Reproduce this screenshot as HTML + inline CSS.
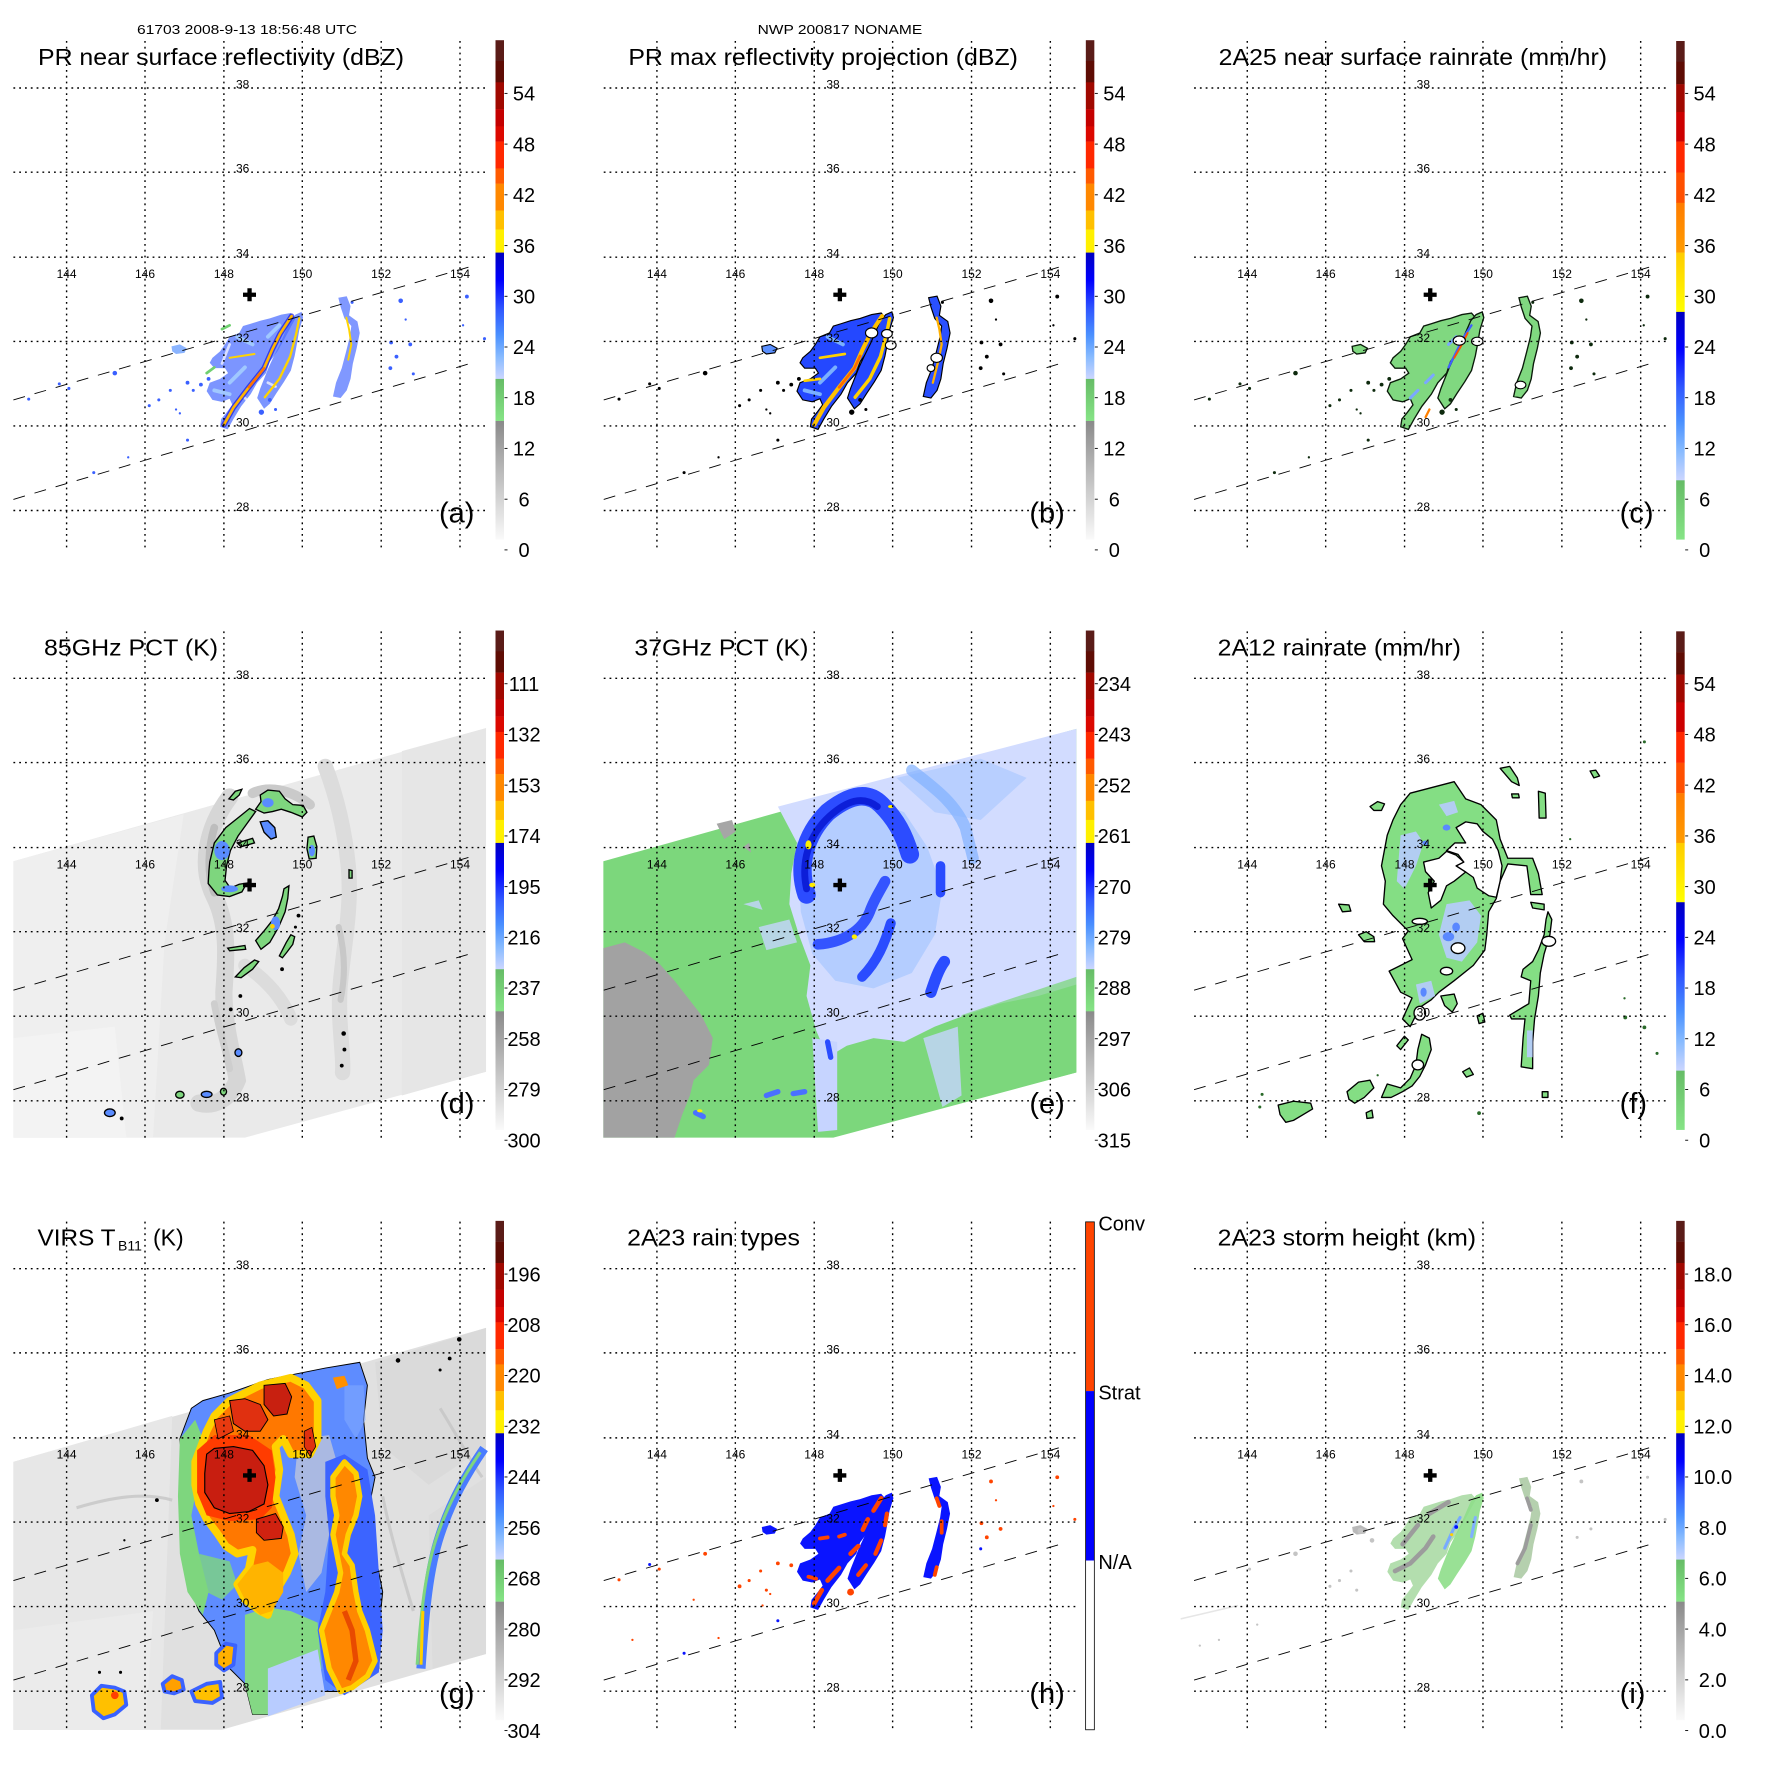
<!DOCTYPE html>
<html><head><meta charset="utf-8"><style>
html,body{margin:0;padding:0;background:#fff}
svg{display:block}
text{font-family:"Liberation Sans",Arial,Helvetica,sans-serif;fill:#000}
</style></head><body>
<svg xmlns="http://www.w3.org/2000/svg" xmlns:xlink="http://www.w3.org/1999/xlink" width="1771" height="1771" viewBox="0 0 1771 1771">
<defs>
<linearGradient id="gBlue" x1="0" y1="0" x2="0" y2="1"><stop offset="0" stop-color="#0000c0"/><stop offset="0.22" stop-color="#0000ff"/><stop offset="0.45" stop-color="#3058ff"/><stop offset="0.65" stop-color="#4a90ff"/><stop offset="0.82" stop-color="#86baff"/><stop offset="1" stop-color="#ccd6ff"/></linearGradient>
<linearGradient id="gGreen" x1="0" y1="0" x2="0" y2="1"><stop offset="0" stop-color="#66bc66"/><stop offset="1" stop-color="#86e486"/></linearGradient>
<linearGradient id="gGray" x1="0" y1="0" x2="0" y2="1"><stop offset="0" stop-color="#8a8a8a"/><stop offset="1" stop-color="#fafafa"/></linearGradient>
<linearGradient id="gYel" x1="0" y1="0" x2="0" y2="1"><stop offset="0" stop-color="#ffcc00"/><stop offset="1" stop-color="#ffff00"/></linearGradient>
<linearGradient id="gOr" x1="0" y1="0" x2="0" y2="1"><stop offset="0" stop-color="#ff7c00"/><stop offset="1" stop-color="#ff9c00"/></linearGradient>

<g id="cbA">
<rect x="495.5" y="40.2" width="8.5" height="21" fill="#5a1c18"/>
<rect x="495.5" y="61" width="8.5" height="21.5" fill="#5e0c04"/>
<rect x="495.5" y="82.3" width="8.5" height="27" fill="#a00800"/>
<rect x="495.5" y="109.1" width="8.5" height="17.4" fill="#c40000"/>
<rect x="495.5" y="126.3" width="8.5" height="15.5" fill="#dc0800"/>
<rect x="495.5" y="141.6" width="8.5" height="27" fill="#ff2800"/>
<rect x="495.5" y="168.4" width="8.5" height="15.5" fill="#ff5a00"/>
<rect x="495.5" y="183.7" width="8.5" height="27" fill="#ff8800"/>
<rect x="495.5" y="210.5" width="8.5" height="19.3" fill="#ffc000"/>
<rect x="495.5" y="229.6" width="8.5" height="23.2" fill="#fff000"/>
<rect x="495.5" y="252.6" width="8.5" height="126.5" fill="url(#gBlue)"/>
<rect x="495.5" y="378.9" width="8.5" height="42.3" fill="url(#gGreen)"/>
<rect x="495.5" y="421" width="8.5" height="118.6" fill="url(#gGray)"/>
</g>
<g id="cbC">
<rect x="495.5" y="41" width="8.5" height="21" fill="#5a1c18"/>
<rect x="495.5" y="61.8" width="8.5" height="22.6" fill="#5e0c04"/>
<rect x="495.5" y="84.2" width="8.5" height="28" fill="#a00800"/>
<rect x="495.5" y="112" width="8.5" height="29.8" fill="#cc0000"/>
<rect x="495.5" y="141.6" width="8.5" height="31" fill="#ff2800"/>
<rect x="495.5" y="172.5" width="8.5" height="30.5" fill="#ff5000"/>
<rect x="495.5" y="202.8" width="8.5" height="50" fill="url(#gOr)"/>
<rect x="495.5" y="252.6" width="8.5" height="59.5" fill="url(#gYel)"/>
<rect x="495.5" y="311.9" width="8.5" height="168.6" fill="url(#gBlue)"/>
<rect x="495.5" y="480.3" width="8.5" height="59.3" fill="url(#gGreen)"/>
</g>
<g id="ticks" stroke="#000" stroke-width="0.9">
<line x1="504.5" x2="507.5" y1="93.4" y2="93.4"/><line x1="504.5" x2="507.5" y1="144.1" y2="144.1"/>
<line x1="504.5" x2="507.5" y1="194.8" y2="194.8"/><line x1="504.5" x2="507.5" y1="245.6" y2="245.6"/>
<line x1="504.5" x2="507.5" y1="296.3" y2="296.3"/><line x1="504.5" x2="507.5" y1="347" y2="347"/>
<line x1="504.5" x2="507.5" y1="397.7" y2="397.7"/><line x1="504.5" x2="507.5" y1="448.4" y2="448.4"/>
<line x1="504.5" x2="507.5" y1="499.2" y2="499.2"/><line x1="504.5" x2="507.5" y1="549.9" y2="549.9"/>
</g>
<g id="grid" stroke="#000" stroke-width="1.4" stroke-dasharray="1.8 4" fill="none">
<line x1="66.6" x2="66.6" y1="41" y2="548"/><line x1="145" x2="145" y1="41" y2="548"/>
<line x1="223.9" x2="223.9" y1="41" y2="548"/><line x1="302.3" x2="302.3" y1="41" y2="548"/>
<line x1="381.2" x2="381.2" y1="41" y2="548"/><line x1="460" x2="460" y1="41" y2="548"/>
<line x1="13.4" x2="486" y1="88" y2="88"/><line x1="13.4" x2="486" y1="172.2" y2="172.2"/>
<line x1="13.4" x2="486" y1="257.2" y2="257.2"/><line x1="13.4" x2="486" y1="341.4" y2="341.4"/>
<line x1="13.4" x2="486" y1="425.9" y2="425.9"/><line x1="13.4" x2="486" y1="510.5" y2="510.5"/>
</g>
<g id="swath" stroke="#000" stroke-width="0.9" stroke-dasharray="12 10" fill="none">
<line x1="13.4" y1="399.9" x2="476.5" y2="264.8"/>
<line x1="13.4" y1="499.4" x2="476.5" y2="361.6"/>
</g>
<path id="cross" d="M243,292.6h13v4.3h-13z M247.4,288.2h4.3v13h-4.3z" fill="#000"/>

<path id="P1" d="M575,1115 L595,1122 L610,1095 L630,1062 L655,1030 L672,1000 L695,975 L705,945 L725,918 L742,888 L758,858 L772,832 L760,818 L735,822 L705,832 L680,838 L655,846 L635,852 L625,870 L600,880 L588,900 L575,918 L555,935 L548,948 L560,962 L588,962 L596,975 L575,990 L548,1000 L540,1022 L555,1045 L580,1050 L600,1042 L607,1058 L592,1078 L578,1095 Z"/>
<path id="P2" d="M672,1040 L690,1068 L705,1055 L722,1028 L742,998 L760,968 L770,930 L776,898 L782,862 L792,830 L788,815 L772,822 L758,838 L745,868 L732,898 L716,930 L702,960 L690,990 L680,1015 Z"/>
<path id="P3" d="M884,778 L906,774 L916,800 L912,824 L934,840 L940,870 L932,910 L922,950 L916,990 L906,1020 L890,1040 L870,1036 L878,1000 L893,962 L904,920 L914,880 L918,852 L900,832 L890,802 Z"/>
<path id="P4" d="M448,905 L470,900 L488,910 L482,922 L460,925 L450,918 Z"/>
<g id="PRdots">
<circle cx="300" cy="975" r="6"/><circle cx="180" cy="1015" r="4"/><circle cx="75" cy="1043" r="4"/><circle cx="155" cy="1003" r="4"/>
<circle cx="390" cy="1060" r="4"/><circle cx="415" cy="1045" r="4"/><circle cx="445" cy="1020" r="4"/><circle cx="490" cy="1000" r="5"/>
<circle cx="525" cy="1005" r="5"/><circle cx="545" cy="990" r="5"/><circle cx="683" cy="1077" r="7"/><circle cx="705" cy="1045" r="5"/>
<circle cx="1047" cy="786" r="6"/><circle cx="1220" cy="775" r="5"/><circle cx="1022" cy="895" r="5"/><circle cx="1036" cy="932" r="5"/>
<circle cx="1020" cy="962" r="5"/><circle cx="1080" cy="977" r="4"/><circle cx="1072" cy="900" r="5"/><circle cx="1266" cy="885" r="4"/>
<circle cx="1060" cy="835" r="3"/><circle cx="490" cy="1150" r="4"/><circle cx="335" cy="1195" r="3"/><circle cx="245" cy="1235" r="4"/>
<circle cx="505" cy="1020" r="4"/><circle cx="460" cy="1070" r="3"/><circle cx="470" cy="1080" r="3"/><circle cx="1210" cy="850" r="3"/>
<circle cx="920" cy="790" r="4"/><circle cx="720" cy="1070" r="4"/>
</g>
</defs>

<text x="137" y="34" font-size="13" textLength="220" lengthAdjust="spacingAndGlyphs">61703 2008-9-13 18:56:48 UTC</text>
<text x="757.6" y="34" font-size="13" textLength="164.6" lengthAdjust="spacingAndGlyphs">NWP 200817 NONAME</text>

<!-- ================= PANEL A ================= -->
<g transform="translate(0,0)">
<g transform="scale(0.3827)">
<use xlink:href="#P1" fill="#4a6cff" opacity="0.72"/>
<use xlink:href="#P2" fill="#4a6cff" opacity="0.72"/>
<use xlink:href="#P3" fill="#4a6cff" opacity="0.7"/>
<use xlink:href="#P4" fill="#8ab4ff"/>
<use xlink:href="#PRdots" fill="#3a60ff"/>
<g fill="none" stroke-linecap="round">
<path d="M600,1000 L640,960 M560,1020 L600,1030 M620,880 L660,900 M700,880 L730,850" stroke="#a0c8ff" stroke-width="10"/>
<path d="M640,1040 L660,1060 M700,1000 L720,1010 M580,950 L600,900" stroke="#ffffff" stroke-width="7" opacity="0.7"/>
<path d="M585,1110 L610,1065 L650,1012 L690,962 L712,912 L732,872 L762,826" stroke="#0000e0" stroke-width="14" opacity="0.6"/>
<path d="M585,1110 L610,1065 L650,1012 L690,962 L712,912 L732,872 L762,826" stroke="#ffb400" stroke-width="7"/>
<path d="M692,1038 L730,990 L758,932 L774,872 L782,832" stroke="#ffd400" stroke-width="6"/>
<path d="M600,935 L665,925" stroke="#ffd400" stroke-width="5"/>
<path d="M650,1012 L690,962" stroke="#ff7000" stroke-width="6"/>
<path d="M905,830 L912,860 L918,900 L910,940" stroke="#ffd400" stroke-width="5"/>
<path d="M560,960 L540,975 M580,860 L600,850" stroke="#70d070" stroke-width="7"/>
</g>
</g>
<use xlink:href="#grid"/><use xlink:href="#swath"/>
<g font-size="12"><text x="236" y="88.5">38</text><text x="236" y="172.7">36</text><text x="236" y="257.7">34</text><text x="236" y="341.9">32</text><text x="236" y="426.4">30</text><text x="236" y="511">28</text></g>
<g font-size="12" text-anchor="middle"><text x="66.6" y="278">144</text><text x="145" y="278">146</text><text x="223.9" y="278">148</text><text x="302.3" y="278">150</text><text x="381.2" y="278">152</text><text x="460" y="278">154</text></g>
<use xlink:href="#cross"/>
<use xlink:href="#cbA"/><use xlink:href="#ticks"/>
<g font-size="20" text-anchor="middle"><text x="524" y="100.6">54</text><text x="524" y="151.3">48</text><text x="524" y="202">42</text><text x="524" y="252.8">36</text><text x="524" y="303.5">30</text><text x="524" y="354.2">24</text><text x="524" y="404.9">18</text><text x="524" y="455.6">12</text><text x="524" y="506.4">6</text><text x="524" y="557.1">0</text></g>
<text x="38" y="65" font-size="23" textLength="366" lengthAdjust="spacingAndGlyphs">PR near surface reflectivity (dBZ)</text>
<text x="439" y="522.5" font-size="29">(a)</text>
</g>

<!-- ================= PANEL B ================= -->
<g transform="translate(590.33,0)">
<g transform="scale(0.3827)">
<g stroke="#000" stroke-width="3">
<use xlink:href="#P1" fill="#2448ff"/>
<use xlink:href="#P2" fill="#2448ff"/>
<use xlink:href="#P3" fill="#2a50ff"/>
<use xlink:href="#P4" fill="#5a90ff"/>
</g>
<use xlink:href="#PRdots" fill="#000"/>
<g fill="none" stroke-linecap="round">
<path d="M600,1000 L640,960 M560,1020 L600,1030 M620,880 L660,900" stroke="#7ab0ff" stroke-width="10"/>
<path d="M585,1110 L610,1065 L650,1012 L690,962 L712,912 L732,872 L762,826" stroke="#ffc000" stroke-width="11"/>
<path d="M692,1038 L730,990 L758,932 L774,872 L782,832" stroke="#ffd000" stroke-width="9"/>
<path d="M600,935 L665,925 M560,995 L600,990" stroke="#ffd000" stroke-width="7"/>
<path d="M650,1012 L690,962 L705,930" stroke="#ff6a00" stroke-width="7"/>
<path d="M905,830 L912,860 L918,900 L910,940 L895,1000" stroke="#ffb000" stroke-width="6"/>
</g>
<g fill="#fff" stroke="#000" stroke-width="3">
<ellipse cx="735" cy="870" rx="16" ry="13"/><ellipse cx="775" cy="872" rx="14" ry="11"/><ellipse cx="785" cy="902" rx="14" ry="11"/>
<ellipse cx="905" cy="935" rx="15" ry="12"/><ellipse cx="890" cy="962" rx="10" ry="9"/>
</g>
</g>
<use xlink:href="#grid"/><use xlink:href="#swath"/>
<g font-size="12"><text x="236" y="88.5">38</text><text x="236" y="172.7">36</text><text x="236" y="257.7">34</text><text x="236" y="341.9">32</text><text x="236" y="426.4">30</text><text x="236" y="511">28</text></g>
<g font-size="12" text-anchor="middle"><text x="66.6" y="278">144</text><text x="145" y="278">146</text><text x="223.9" y="278">148</text><text x="302.3" y="278">150</text><text x="381.2" y="278">152</text><text x="460" y="278">154</text></g>
<use xlink:href="#cross"/>
<use xlink:href="#cbA"/><use xlink:href="#ticks"/>
<g font-size="20" text-anchor="middle"><text x="524" y="100.6">54</text><text x="524" y="151.3">48</text><text x="524" y="202">42</text><text x="524" y="252.8">36</text><text x="524" y="303.5">30</text><text x="524" y="354.2">24</text><text x="524" y="404.9">18</text><text x="524" y="455.6">12</text><text x="524" y="506.4">6</text><text x="524" y="557.1">0</text></g>
<text x="38" y="65" font-size="23" textLength="389.6" lengthAdjust="spacingAndGlyphs">PR max reflectivity projection (dBZ)</text>
<text x="439" y="522.5" font-size="29">(b)</text>
</g>

<!-- ================= PANEL C ================= -->
<g transform="translate(1180.67,0)">
<g transform="scale(0.3827)">
<g stroke="#0a1a0a" stroke-width="3.5">
<use xlink:href="#P1" fill="#80d880"/>
<use xlink:href="#P2" fill="#80d880"/>
<use xlink:href="#P3" fill="#80d880"/>
<use xlink:href="#P4" fill="#80d880"/>
</g>
<use xlink:href="#PRdots" fill="#0e2a0e"/>
<g fill="none" stroke-linecap="round">
<path d="M640,1000 L660,980 M600,1040 L620,1020 M700,900 L720,880" stroke="#7aa8ff" stroke-width="8"/>
<path d="M700,960 L720,920 L740,880 L760,850" stroke="#4060ff" stroke-width="6"/>
<path d="M715,935 L735,900 L750,870" stroke="#ff5000" stroke-width="5"/>
<path d="M640,1090 L650,1070" stroke="#ff8000" stroke-width="6"/>
</g>
<g fill="#fff" stroke="#000" stroke-width="3">
<ellipse cx="728" cy="890" rx="16" ry="12"/><ellipse cx="775" cy="892" rx="15" ry="11"/><ellipse cx="888" cy="1006" rx="14" ry="10"/>
</g>
</g>
<use xlink:href="#grid"/><use xlink:href="#swath"/>
<g font-size="12"><text x="236" y="88.5">38</text><text x="236" y="172.7">36</text><text x="236" y="257.7">34</text><text x="236" y="341.9">32</text><text x="236" y="426.4">30</text><text x="236" y="511">28</text></g>
<g font-size="12" text-anchor="middle"><text x="66.6" y="278">144</text><text x="145" y="278">146</text><text x="223.9" y="278">148</text><text x="302.3" y="278">150</text><text x="381.2" y="278">152</text><text x="460" y="278">154</text></g>
<use xlink:href="#cross"/>
<use xlink:href="#cbC"/><use xlink:href="#ticks"/>
<g font-size="20" text-anchor="middle"><text x="524" y="100.6">54</text><text x="524" y="151.3">48</text><text x="524" y="202">42</text><text x="524" y="252.8">36</text><text x="524" y="303.5">30</text><text x="524" y="354.2">24</text><text x="524" y="404.9">18</text><text x="524" y="455.6">12</text><text x="524" y="506.4">6</text><text x="524" y="557.1">0</text></g>
<text x="38" y="65" font-size="23" textLength="388.4" lengthAdjust="spacingAndGlyphs">2A25 near surface rainrate (mm/hr)</text>
<text x="439" y="522.5" font-size="29">(c)</text>
</g>

<!-- ================= PANEL D ================= -->
<g transform="translate(0,590.33)">
<g transform="translate(0,7.67) scale(0.3827)">
<path d="M35,688 L1270,340 L1270,1238 L640,1410 L35,1410 Z" fill="#eaeaea"/>
<path d="M35,688 L480,565 L430,900 L400,1410 L35,1410 Z" fill="#efefef"/>
<path d="M35,1150 L300,1120 L330,1410 L35,1410 Z" fill="#f3f3f3"/>
<path d="M1050,400 L1270,340 L1270,1238 L1050,1300 Z" fill="#e6e6e6"/>
<g fill="none" stroke-linecap="round">
<path d="M600,520 C540,600 520,700 560,780 C600,860 590,950 585,1030 C585,1120 610,1200 620,1260 C600,1310 560,1330 520,1320" stroke="#d6d6d6" stroke-width="45"/>
<path d="M850,440 C880,520 900,600 910,700 C920,800 900,900 890,1000 C880,1100 900,1200 895,1240" stroke="#dcdcdc" stroke-width="40"/>
<path d="M640,960 C700,1000 740,1050 760,1100" stroke="#dcdcdc" stroke-width="35"/>
<path d="M885,860 C905,940 900,1000 890,1050" stroke="#c8c8c8" stroke-width="16"/>
<path d="M560,1060 C570,1120 590,1180 600,1230" stroke="#cecece" stroke-width="18"/>
<path d="M560,600 C545,650 540,720 560,770" stroke="#bdbdbd" stroke-width="20"/>
<path d="M660,510 C700,490 760,500 810,540" stroke="#cacaca" stroke-width="26"/>
</g>
<g stroke="#000" stroke-width="3.5" fill="#7ed67e">
<path d="M598,525 L615,505 L632,500 L625,515 L610,528 Z"/>
<path d="M548,690 L560,640 L590,600 L630,568 L652,550 L668,558 L645,590 L622,622 L602,660 L592,700 L588,738 L602,758 L625,748 L645,745 L632,768 L600,780 L568,776 L544,746 L546,712 Z"/>
<path d="M680,515 L700,502 L730,505 L745,525 L765,540 L792,542 L802,560 L790,572 L760,560 L735,552 L712,558 L690,562 L668,552 L682,532 Z"/>
<path d="M680,585 L700,582 L718,600 L722,625 L708,630 L690,612 Z" fill="#5a8cff"/>
<path d="M805,625 L820,622 L828,650 L826,680 L808,682 L802,655 Z"/>
<path d="M668,895 L690,870 L712,842 L728,812 L738,780 L742,760 L755,752 L752,785 L745,820 L728,860 L705,900 L682,918 Z"/>
<path d="M730,935 L748,900 L760,880 L770,885 L765,905 L750,925 L738,940 Z"/>
<path d="M615,990 L638,966 L665,946 L676,950 L660,970 L630,992 Z"/>
<path d="M595,915 L640,908 L642,918 L600,922 Z"/>
<path d="M620,640 L660,628 L665,640 L630,650 Z"/>
<path d="M912,710 L920,712 L920,732 L912,732 Z"/>
<ellipse cx="287" cy="1345" rx="14" ry="10" fill="#5a8cff"/>
<ellipse cx="470" cy="1298" rx="11" ry="9"/><ellipse cx="540" cy="1297" rx="14" ry="8" fill="#5a8cff"/>
<ellipse cx="584" cy="1290" rx="8" ry="9"/><ellipse cx="623" cy="1188" rx="9" ry="10" fill="#5a8cff"/>
</g>
<g fill="#000"><circle cx="780" cy="830" r="5"/><circle cx="772" cy="860" r="4"/><circle cx="628" cy="1040" r="5"/><circle cx="737" cy="970" r="5"/><circle cx="318" cy="1360" r="5"/><circle cx="898" cy="1138" r="6"/><circle cx="900" cy="1180" r="5"/><circle cx="893" cy="1222" r="5"/><circle cx="603" cy="1075" r="5"/></g>
<g fill="#5a8cff"><ellipse cx="580" cy="660" rx="20" ry="25"/><ellipse cx="600" cy="760" rx="22" ry="9"/><ellipse cx="700" cy="535" rx="15" ry="12"/><ellipse cx="720" cy="850" rx="12" ry="18"/><ellipse cx="815" cy="660" rx="8" ry="15"/></g>
<circle cx="712" cy="858" r="6" fill="#ffd000"/>
</g>
<use xlink:href="#grid"/><use xlink:href="#swath"/>
<g font-size="12"><text x="236" y="88.5">38</text><text x="236" y="172.7">36</text><text x="236" y="257.7">34</text><text x="236" y="341.9">32</text><text x="236" y="426.4">30</text><text x="236" y="511">28</text></g>
<g font-size="12" text-anchor="middle"><text x="66.6" y="278">144</text><text x="145" y="278">146</text><text x="223.9" y="278">148</text><text x="302.3" y="278">150</text><text x="381.2" y="278">152</text><text x="460" y="278">154</text></g>
<use xlink:href="#cross"/>
<use xlink:href="#cbA"/><use xlink:href="#ticks"/>
<g font-size="20" text-anchor="middle"><text x="524" y="100.6">111</text><text x="524" y="151.3">132</text><text x="524" y="202">153</text><text x="524" y="252.8">174</text><text x="524" y="303.5">195</text><text x="524" y="354.2">216</text><text x="524" y="404.9">237</text><text x="524" y="455.6">258</text><text x="524" y="506.4">279</text><text x="524" y="557.1">300</text></g>
<text x="44" y="65" font-size="23" textLength="174.1" lengthAdjust="spacingAndGlyphs">85GHz PCT (K)</text>
<text x="439" y="522.5" font-size="29">(d)</text>
</g>

<!-- ================= PANEL E ================= -->
<g transform="translate(590.33,590.33)">
<g transform="translate(7.67,7.67) scale(0.3827)">
<path d="M14,688 L1250,342 L1250,1240 L615,1410 L14,1410 Z" fill="#7cd77c"/>
<path d="M14,915 L70,900 L120,925 L160,955 L200,1000 L235,1045 L270,1090 L300,1150 L290,1220 L250,1260 L240,1300 L220,1350 L200,1410 L14,1410 Z" fill="#a2a2a2"/>
<path d="M310,590 L350,580 L360,610 L330,630 Z M380,650 L395,640 L400,665 Z" fill="#a6a6a6"/>
<path d="M470,545 L1250,342 L1250,1010 L1150,1040 L1050,1060 L960,1090 L880,1120 L800,1160 L720,1150 L650,1170 L600,1200 L570,1130 L545,1040 L555,960 L525,880 L500,800 L505,720 L520,640 Z" fill="#d2dcff"/>
<path d="M520,640 L600,560 L700,520 L800,560 L860,650 L900,760 L880,880 L820,980 L720,1020 L620,1000 L560,930 L530,820 Z" fill="#a6c6ff" opacity="0.7"/>
<path d="M780,470 L1000,420 L1120,470 L1000,580 L880,560 Z" fill="#a6c6ff" opacity="0.6"/>
<path d="M950,1090 L1250,990 L1250,1240 L980,1310 Z" fill="#7cd77c" opacity="0.75"/>
<path d="M560,1150 L625,1160 L625,1390 L575,1395 Z" fill="#c6d4ff"/>
<path d="M850,1150 L940,1120 L950,1300 L900,1330 Z" fill="#c6d4ff" opacity="0.8"/>
<path d="M420,860 L500,840 L520,900 L440,920 Z M380,800 L420,790 L430,815 Z" fill="#c6d4ff" opacity="0.8"/>
<g fill="none" stroke-linecap="round" stroke-linejoin="round">
<path d="M545,775 C520,700 540,620 600,560 C650,520 700,500 740,540 C780,580 800,620 815,670" stroke="#2c4cff" stroke-width="48"/>
<path d="M545,760 C530,690 550,620 605,570 C650,530 690,515 730,545" stroke="#0c1ed8" stroke-width="18"/>
<path d="M575,905 C640,900 690,870 710,820 C720,790 740,760 750,740" stroke="#3454ff" stroke-width="28"/>
<path d="M690,990 C730,950 750,900 765,850" stroke="#2a4cff" stroke-width="26"/>
<path d="M870,1030 C880,1000 890,970 905,950" stroke="#2a4cff" stroke-width="30"/>
<path d="M895,700 L895,770" stroke="#2a4cff" stroke-width="25"/>
<path d="M820,450 C870,490 930,530 960,600 L980,680" stroke="#80b0ff" stroke-width="30" opacity="0.7"/>
<path d="M600,1160 L608,1200" stroke="#2a4cff" stroke-width="14"/>
<path d="M440,1300 L470,1290 M510,1295 L540,1290" stroke="#4a70ff" stroke-width="14"/>
<path d="M255,1345 L275,1355" stroke="#4a70ff" stroke-width="14"/>
</g>
<g fill="#ffee00"><ellipse cx="550" cy="645" rx="8" ry="12"/><ellipse cx="560" cy="750" rx="8" ry="6"/><ellipse cx="670" cy="885" rx="7" ry="6"/><ellipse cx="765" cy="545" rx="7" ry="4"/><ellipse cx="266" cy="1340" rx="7" ry="4"/></g>
</g>
<use xlink:href="#grid"/><use xlink:href="#swath"/>
<g font-size="12"><text x="236" y="88.5">38</text><text x="236" y="172.7">36</text><text x="236" y="257.7">34</text><text x="236" y="341.9">32</text><text x="236" y="426.4">30</text><text x="236" y="511">28</text></g>
<g font-size="12" text-anchor="middle"><text x="66.6" y="278">144</text><text x="145" y="278">146</text><text x="223.9" y="278">148</text><text x="302.3" y="278">150</text><text x="381.2" y="278">152</text><text x="460" y="278">154</text></g>
<use xlink:href="#cross"/>
<use xlink:href="#cbA"/><use xlink:href="#ticks"/>
<g font-size="20" text-anchor="middle"><text x="524" y="100.6">234</text><text x="524" y="151.3">243</text><text x="524" y="202">252</text><text x="524" y="252.8">261</text><text x="524" y="303.5">270</text><text x="524" y="354.2">279</text><text x="524" y="404.9">288</text><text x="524" y="455.6">297</text><text x="524" y="506.4">306</text><text x="524" y="557.1">315</text></g>
<text x="44" y="65" font-size="23" textLength="174.1" lengthAdjust="spacingAndGlyphs">37GHz PCT (K)</text>
<text x="439" y="522.5" font-size="29">(e)</text>
</g>

<!-- ================= PANEL F ================= -->
<g transform="translate(1180.67,590.33)">
<g transform="translate(-9.67,7.67) scale(0.3827)">
<g stroke="#000" stroke-width="3.5" fill="#84de84" stroke-linejoin="round">
<path d="M625,510 L740,480 L770,525 L810,540 L850,580 L860,630 L880,680 L945,680 L960,720 L970,775 L940,775 L930,700 L880,695 L860,740 L850,785 L830,820 L825,880 L820,920 L790,960 L740,1000 L700,1030 L680,1050 L650,1070 L625,1120 L605,1100 L630,1045 L600,1030 L570,975 L630,945 L605,890 L620,870 L580,830 L555,800 L560,740 L550,700 L565,620 L580,580 L600,540 Z"/>
<path d="M985,820 L995,840 L990,880 L975,930 L965,980 L960,1040 L950,1100 L945,1160 L945,1230 L915,1225 L920,1150 L925,1100 L890,1100 L885,1090 L935,1060 L940,1000 L915,990 L920,970 L945,950 L960,920 L975,880 L980,840 Z"/>
<path d="M940,795 L975,800 L975,815 L945,810 Z"/>
<path d="M655,1140 L675,1150 L680,1180 L665,1220 L650,1250 L630,1275 L605,1290 L575,1305 L550,1305 L565,1270 L600,1280 L625,1255 L640,1220 L645,1180 Z"/>
<path d="M590,1170 L610,1145 L620,1155 L600,1180 Z"/>
<path d="M460,1290 L490,1265 L520,1260 L530,1280 L505,1305 L480,1320 L465,1310 Z"/>
<path d="M280,1325 L320,1315 L365,1320 L370,1335 L345,1350 L320,1365 L300,1370 L285,1350 Z"/>
<path d="M520,545 L540,532 L558,538 L550,555 L530,555 Z"/>
<path d="M438,800 L465,802 L470,818 L448,820 Z"/>
<path d="M490,880 L510,872 L530,885 L532,898 L505,898 Z"/>
<path d="M860,445 L885,440 L905,470 L910,490 L890,480 Z"/>
<path d="M1095,452 L1110,450 L1120,465 L1105,470 Z"/>
<path d="M960,505 L978,510 L980,575 L962,575 Z"/>
<path d="M890,512 L908,512 L910,522 L892,522 Z"/>
<path d="M705,1040 L740,1035 L748,1060 L735,1082 L715,1065 Z"/>
<path d="M800,1092 L815,1085 L820,1108 L805,1112 Z"/>
<path d="M762,1238 L780,1228 L790,1245 L772,1252 Z"/>
<path d="M510,1345 L525,1338 L528,1358 L512,1360 Z"/>
<path d="M970,1290 L985,1290 L985,1305 L970,1305 Z"/>
</g>
<g fill="#b8ccff" opacity="0.9"><path d="M600,620 L640,610 L660,640 L640,700 L610,760 L590,740 L595,680 Z"/><path d="M720,800 L780,790 L810,830 L800,900 L760,950 L720,940 L700,880 Z"/><path d="M640,1010 L680,1000 L690,1040 L650,1060 Z"/><path d="M930,1130 L945,1130 L945,1200 L930,1200 Z"/><path d="M700,540 L740,530 L750,560 L720,570 Z"/></g>
<g fill="#5a88ff"><ellipse cx="725" cy="885" rx="15" ry="12"/><ellipse cx="745" cy="860" rx="10" ry="12"/><ellipse cx="660" cy="1030" rx="8" ry="12"/><ellipse cx="720" cy="600" rx="10" ry="8"/><ellipse cx="665" cy="640" rx="8" ry="6"/></g>
<g fill="#fff" stroke="#000" stroke-width="3.5" stroke-linejoin="round">
<path d="M745,600 L770,585 L800,590 L815,610 L840,630 L855,660 L865,700 L860,740 L850,782 L830,778 L800,758 L790,730 L770,716 L745,700 L765,690 L750,670 L720,660 L742,640 L770,640 Z"/>
<path d="M660,690 L700,680 L720,662 L745,672 L765,690 L745,700 L770,716 L740,740 L720,752 L705,790 L680,810 L672,770 L688,740 L665,715 Z"/>
<ellipse cx="750" cy="915" rx="18" ry="14"/><ellipse cx="720" cy="975" rx="16" ry="10"/><ellipse cx="650" cy="845" rx="20" ry="8"/>
<ellipse cx="650" cy="1085" rx="15" ry="18"/><ellipse cx="645" cy="1220" rx="15" ry="13"/><ellipse cx="987" cy="897" rx="18" ry="13"/>
</g>
<g fill="#2a6a2a"><circle cx="1237" cy="376" r="4"/><circle cx="1043" cy="630" r="3"/><circle cx="1187" cy="1096" r="5"/><circle cx="1237" cy="1122" r="5"/><circle cx="1270" cy="1190" r="4"/><circle cx="805" cy="1346" r="5"/><circle cx="1185" cy="1046" r="3"/><circle cx="540" cy="1247" r="3"/><circle cx="238" cy="1297" r="4"/><circle cx="232" cy="1330" r="4"/></g>
</g>
<use xlink:href="#grid"/><use xlink:href="#swath"/>
<g font-size="12"><text x="236" y="88.5">38</text><text x="236" y="172.7">36</text><text x="236" y="257.7">34</text><text x="236" y="341.9">32</text><text x="236" y="426.4">30</text><text x="236" y="511">28</text></g>
<g font-size="12" text-anchor="middle"><text x="66.6" y="278">144</text><text x="145" y="278">146</text><text x="223.9" y="278">148</text><text x="302.3" y="278">150</text><text x="381.2" y="278">152</text><text x="460" y="278">154</text></g>
<use xlink:href="#cross"/>
<use xlink:href="#cbC"/><use xlink:href="#ticks"/>
<g font-size="20" text-anchor="middle"><text x="524" y="100.6">54</text><text x="524" y="151.3">48</text><text x="524" y="202">42</text><text x="524" y="252.8">36</text><text x="524" y="303.5">30</text><text x="524" y="354.2">24</text><text x="524" y="404.9">18</text><text x="524" y="455.6">12</text><text x="524" y="506.4">6</text><text x="524" y="557.1">0</text></g>
<text x="37" y="65" font-size="23" textLength="243.2" lengthAdjust="spacingAndGlyphs">2A12 rainrate (mm/hr)</text>
<text x="439" y="522.5" font-size="29">(f)</text>
</g>

<!-- ================= PANEL G ================= -->
<g transform="translate(0,1180.67)">
<g transform="translate(0,-9.67) scale(0.3827)">
<path d="M35,760 L1270,410 L1270,1262 L580,1460 L35,1460 Z" fill="#e0e0e0"/>
<path d="M35,760 L450,640 L420,1460 L35,1460 Z" fill="#e7e7e7"/>
<path d="M35,1200 L400,1150 L380,1460 L35,1460 Z" fill="#ebebeb"/>
<path d="M980,500 L1270,410 L1270,720 L1120,820 L1000,720 Z" fill="#dadada"/>
<path d="M1120,900 L1270,800 L1270,1262 L1130,1300 Z" fill="#dcdcdc"/>
<g fill="none" stroke="#c6c6c6" stroke-width="8" opacity="0.8"><path d="M200,880 C300,850 380,840 450,860"/><path d="M1150,620 C1200,700 1230,760 1260,800"/><path d="M1000,850 C1020,950 1050,1050 1080,1150"/></g>
<path d="M470,700 L500,620 L530,600 L600,580 L700,545 L850,515 L940,500 L960,560 L950,650 L960,750 L980,800 L960,900 L980,1000 L1000,1100 L990,1200 L990,1300 L900,1360 L850,1360 L800,1380 L700,1420 L660,1420 L640,1340 L600,1300 L560,1200 L520,1150 L500,1100 L480,1000 L470,900 L480,800 Z" fill="#5e8cff" stroke="#000" stroke-width="2.5"/>
<path d="M470,700 L510,650 L530,700 L520,800 L500,900 L520,1000 L545,1100 L530,1160 L490,1100 L470,1000 L465,850 Z" fill="#7ed67e"/>
<path d="M520,1000 L600,1020 L620,1080 L580,1120 L540,1100 Z" fill="#7ed67e" opacity="0.8"/>
<path d="M640,1160 L700,1140 L760,1150 L830,1180 L840,1300 L800,1380 L700,1420 L660,1420 L640,1340 Z" fill="#84d884"/>
<path d="M700,1300 L830,1250 L850,1370 L700,1425 Z" fill="#b8ccff"/>
<path d="M780,700 L860,690 L880,760 L860,850 L860,950 L840,1050 L800,1100 L780,1000 L800,900 L770,800 Z" fill="#c4c8d8" opacity="0.75"/>
<path d="M900,560 L950,560 L955,650 L930,700 L900,650 Z" fill="#80a8ff" opacity="0.6"/>
<path d="M850,760 L900,740 L960,780 L980,900 L990,1050 L1000,1200 L990,1310 L900,1370 L850,1330 L830,1200 L850,1100 L860,950 L850,850 Z" fill="#3c64ff"/>
<path d="M510,760 L540,680 L560,640 L600,600 L680,560 L760,540 L800,560 L830,600 L830,700 L810,740 L760,740 L740,700 L720,720 L730,780 L720,850 L740,900 L760,950 L770,1000 L750,1050 L720,1100 L700,1160 L680,1150 L640,1120 L620,1080 L650,1040 L660,990 L620,1000 L590,980 L570,950 L540,910 L520,870 L510,820 Z" fill="#ff7800" stroke="#ffd200" stroke-width="20" stroke-linejoin="round"/>
<path d="M515,730 L560,690 L650,690 L710,730 L720,800 L710,880 L680,910 L600,915 L540,900 L515,840 Z" fill="#ff3c00"/>
<path d="M535,790 L540,740 L560,725 L610,720 L660,730 L690,770 L700,820 L690,870 L650,890 L600,895 L560,880 L535,840 Z" fill="#c81e10" stroke="#000" stroke-width="3"/>
<path d="M690,560 L745,555 L762,590 L750,635 L715,640 L690,610 Z" fill="#c82010" stroke="#000" stroke-width="2.5"/>
<path d="M600,600 L640,595 L680,610 L700,650 L680,680 L640,680 L610,660 Z" fill="#e03010" stroke="#000" stroke-width="2.5"/>
<path d="M560,650 L600,640 L610,680 L570,700 Z" fill="#e83a10" stroke="#000" stroke-width="2"/>
<path d="M670,910 L720,895 L740,930 L735,960 L690,965 L670,945 Z" fill="#d02210" stroke="#000" stroke-width="2.5"/>
<path d="M620,1080 L660,1030 L700,1020 L740,1050 L740,1100 L710,1150 L680,1160 L640,1120 Z" fill="#ffb400"/>
<path d="M870,800 L900,760 L930,790 L940,850 L930,900 L910,950 L900,1000 L920,1030 L930,1100 L940,1150 L960,1200 L980,1280 L960,1320 L920,1350 L890,1360 L860,1300 L840,1200 L860,1150 L880,1100 L890,1050 L880,1000 L870,950 L880,900 L870,850 Z" fill="#ff8800" stroke="#ffd000" stroke-width="14" stroke-linejoin="round"/>
<path d="M900,1150 L920,1200 L930,1280 L910,1330" fill="none" stroke="#e84a00" stroke-width="14"/>
<path d="M870,540 L900,535 L910,560 L880,570 Z" fill="#ff9000"/>
<path d="M795,680 L815,670 L825,720 L810,745 L795,720 Z" fill="#e03010" stroke="#000" stroke-width="2"/>
<path d="M1265,725 C1220,790 1180,860 1150,950 C1120,1040 1110,1150 1100,1300" fill="none" stroke="#4a7cff" stroke-width="24"/>
<path d="M1255,735 C1210,800 1170,870 1140,960 C1112,1045 1100,1150 1090,1290" fill="none" stroke="#7ed67e" stroke-width="8"/>
<path d="M1105,1150 L1100,1290" fill="none" stroke="#ffd000" stroke-width="8"/>
<g stroke="#3a62ff" stroke-width="10" stroke-linejoin="round">
<path d="M240,1370 L265,1345 L300,1350 L325,1360 L330,1395 L300,1420 L270,1430 L245,1410 Z" fill="#ffc000"/>
<path d="M425,1340 L450,1320 L475,1330 L480,1355 L455,1365 L430,1360 Z" fill="#ffa000"/>
<path d="M500,1360 L540,1340 L575,1335 L580,1375 L555,1390 L510,1385 Z" fill="#ffc000"/>
<path d="M565,1260 L590,1235 L615,1240 L610,1290 L585,1305 L565,1290 Z" fill="#ffb000"/>
</g>
<circle cx="300" cy="1370" r="10" fill="#ff4000"/>
<g fill="#000"><circle cx="410" cy="860" r="5"/><circle cx="1200" cy="440" r="6"/><circle cx="1175" cy="490" r="5"/><circle cx="1150" cy="520" r="4"/><circle cx="1040" cy="495" r="6"/><circle cx="325" cy="965" r="3"/><circle cx="260" cy="1310" r="4"/><circle cx="315" cy="1310" r="4"/></g>
</g>
<use xlink:href="#grid"/><use xlink:href="#swath"/>
<g font-size="12"><text x="236" y="88.5">38</text><text x="236" y="172.7">36</text><text x="236" y="257.7">34</text><text x="236" y="341.9">32</text><text x="236" y="426.4">30</text><text x="236" y="511">28</text></g>
<g font-size="12" text-anchor="middle"><text x="66.6" y="278">144</text><text x="145" y="278">146</text><text x="223.9" y="278">148</text><text x="302.3" y="278">150</text><text x="381.2" y="278">152</text><text x="460" y="278">154</text></g>
<use xlink:href="#cross"/>
<use xlink:href="#cbA"/><use xlink:href="#ticks"/>
<g font-size="20" text-anchor="middle"><text x="524" y="100.6">196</text><text x="524" y="151.3">208</text><text x="524" y="202">220</text><text x="524" y="252.8">232</text><text x="524" y="303.5">244</text><text x="524" y="354.2">256</text><text x="524" y="404.9">268</text><text x="524" y="455.6">280</text><text x="524" y="506.4">292</text><text x="524" y="557.1">304</text></g>
<text x="37.5" y="65" font-size="23"><tspan textLength="78" lengthAdjust="spacingAndGlyphs">VIRS T</tspan><tspan x="118" dy="5" font-size="14">B11</tspan><tspan x="153" dy="-5">(K)</tspan></text>
<text x="439" y="522.5" font-size="29">(g)</text>
</g>

<!-- ================= PANEL H ================= -->
<g transform="translate(590.33,1180.67)">
<g transform="scale(0.3827)">
<use xlink:href="#P1" fill="#0a14ff"/>
<use xlink:href="#P2" fill="#0a14ff"/>
<use xlink:href="#P3" fill="#0a14ff"/>
<use xlink:href="#P4" fill="#0a14ff"/>
<g fill="#ff4400">
<circle cx="300" cy="975" r="5"/><circle cx="180" cy="1015" r="4"/><circle cx="75" cy="1043" r="4"/><circle cx="390" cy="1060" r="5"/>
<circle cx="415" cy="1045" r="4"/><circle cx="445" cy="1020" r="4"/><circle cx="490" cy="1000" r="5"/><circle cx="525" cy="1005" r="5"/>
<circle cx="1047" cy="786" r="5"/><circle cx="1220" cy="775" r="5"/><circle cx="1022" cy="895" r="5"/><circle cx="1036" cy="932" r="5"/>
<circle cx="1072" cy="910" r="5"/><circle cx="1266" cy="885" r="4"/><circle cx="1060" cy="835" r="3"/><circle cx="460" cy="1070" r="4"/>
<circle cx="470" cy="1080" r="3"/><circle cx="1210" cy="850" r="3"/><circle cx="680" cy="1075" r="9"/><circle cx="110" cy="1200" r="3"/>
<circle cx="335" cy="1195" r="3"/><circle cx="270" cy="1095" r="3"/><circle cx="450" cy="1110" r="3"/>
</g>
<g fill="#0a14ff"><circle cx="245" cy="1235" r="4"/><circle cx="490" cy="1150" r="4"/><circle cx="155" cy="1003" r="4"/><circle cx="1020" cy="962" r="4"/></g>
<g fill="none" stroke="#ff4400" stroke-linecap="round">
<path d="M585,1105 L605,1070 M620,1045 L650,1012 M680,975 L700,955 M712,912 L725,885 M740,862 L760,830" stroke-width="12"/>
<path d="M700,1030 L720,1005 M745,975 L760,940 M770,900 L775,870" stroke-width="11"/>
<path d="M600,935 L620,932 M650,930 L665,925 M570,1035 L590,1040" stroke-width="10"/>
<path d="M905,830 L912,850 M918,890 L918,920 M905,1010 L900,1030" stroke-width="10"/>
</g>
</g>
<use xlink:href="#grid"/><use xlink:href="#swath"/>
<g font-size="12"><text x="236" y="88.5">38</text><text x="236" y="172.7">36</text><text x="236" y="257.7">34</text><text x="236" y="341.9">32</text><text x="236" y="426.4">30</text><text x="236" y="511">28</text></g>
<g font-size="12" text-anchor="middle"><text x="66.6" y="278">144</text><text x="145" y="278">146</text><text x="223.9" y="278">148</text><text x="302.3" y="278">150</text><text x="381.2" y="278">152</text><text x="460" y="278">154</text></g>
<use xlink:href="#cross"/>
<rect x="495.3" y="41.2" width="8.7" height="169.2" fill="#ff4400"/>
<rect x="495.3" y="210.4" width="8.7" height="169.5" fill="#0000ff"/>
<rect x="495.3" y="379.9" width="8.7" height="169.2" fill="#fff"/>
<rect x="495.3" y="41.2" width="8.7" height="507.9" fill="none" stroke="#000" stroke-width="0.8"/>
<g font-size="20"><text x="508" y="49.7">Conv</text><text x="508" y="218.8">Strat</text><text x="508" y="388.3">N/A</text></g>
<text x="36.8" y="65" font-size="23" textLength="172.8" lengthAdjust="spacingAndGlyphs">2A23 rain types</text>
<text x="439" y="522.5" font-size="29">(h)</text>
</g>

<!-- ================= PANEL I ================= -->
<g transform="translate(1180.67,1180.67)">
<g transform="scale(0.3827)">
<use xlink:href="#P1" fill="#a6d8a0" opacity="0.85"/>
<use xlink:href="#P2" fill="#8ede8a" opacity="0.9"/>
<use xlink:href="#P3" fill="#a8c8a0" opacity="0.85"/>
<use xlink:href="#P4" fill="#b8b8b8"/>
<g fill="none" stroke-linecap="round">
<path d="M560,1020 L600,1000 L640,960 L660,930 M580,950 L620,900 M650,870 L700,840" stroke="#9c9c9c" stroke-width="12"/>
<path d="M880,1000 L900,960 L915,900 M905,830 L915,860" stroke="#9c9c9c" stroke-width="10"/>
<path d="M690,960 L712,912 L730,880" stroke="#78aaff" stroke-width="8"/>
<path d="M760,930 L770,880" stroke="#80b0ff" stroke-width="8"/>
</g>
<circle cx="720" cy="905" r="5" fill="#0010ff"/><circle cx="708" cy="925" r="4" fill="#ffd000"/>
<g fill="#c4c4c4"><circle cx="300" cy="975" r="6"/><circle cx="470" cy="915" r="8"/><circle cx="500" cy="940" r="6"/><circle cx="390" cy="1060" r="4"/><circle cx="415" cy="1045" r="4"/><circle cx="445" cy="1020" r="4"/><circle cx="1047" cy="786" r="5"/><circle cx="1220" cy="775" r="4"/><circle cx="1036" cy="932" r="4"/><circle cx="1072" cy="910" r="4"/><circle cx="1266" cy="885" r="4"/><circle cx="460" cy="1070" r="4"/><circle cx="200" cy="1160" r="3"/><circle cx="100" cy="1200" r="3"/><circle cx="50" cy="1215" r="3"/><circle cx="180" cy="1015" r="4"/></g>
<path d="M0,1145 L150,1110" stroke="#e6e6e6" stroke-width="4"/>
</g>
<use xlink:href="#grid"/><use xlink:href="#swath"/>
<g font-size="12"><text x="236" y="88.5">38</text><text x="236" y="172.7">36</text><text x="236" y="257.7">34</text><text x="236" y="341.9">32</text><text x="236" y="426.4">30</text><text x="236" y="511">28</text></g>
<g font-size="12" text-anchor="middle"><text x="66.6" y="278">144</text><text x="145" y="278">146</text><text x="223.9" y="278">148</text><text x="302.3" y="278">150</text><text x="381.2" y="278">152</text><text x="460" y="278">154</text></g>
<use xlink:href="#cross"/>
<use xlink:href="#cbA"/><use xlink:href="#ticks"/>
<g font-size="20" text-anchor="middle"><text x="532" y="100.6">18.0</text><text x="532" y="151.3">16.0</text><text x="532" y="202">14.0</text><text x="532" y="252.8">12.0</text><text x="532" y="303.5">10.0</text><text x="532" y="354.2">8.0</text><text x="532" y="404.9">6.0</text><text x="532" y="455.6">4.0</text><text x="532" y="506.4">2.0</text><text x="532" y="557.1">0.0</text></g>
<text x="37" y="65" font-size="23" textLength="258.4" lengthAdjust="spacingAndGlyphs">2A23 storm height (km)</text>
<text x="439" y="522.5" font-size="29">(i)</text>
</g>
</svg>
</body></html>
